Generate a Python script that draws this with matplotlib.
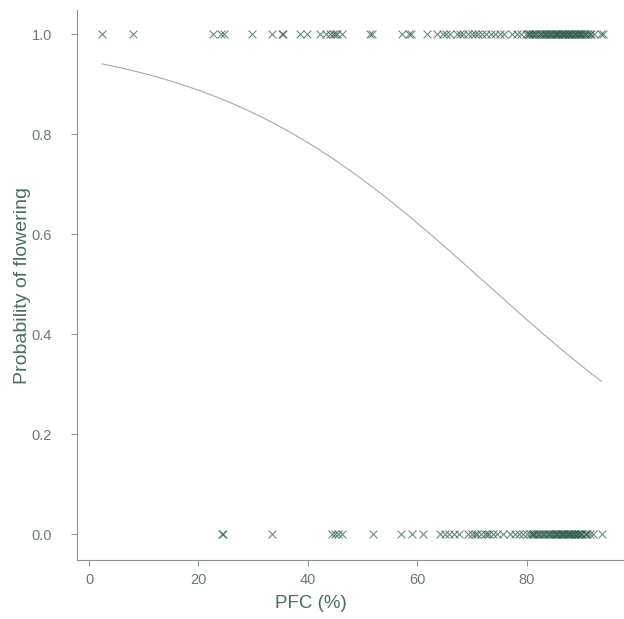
import matplotlib.pyplot as plt
import numpy as np

plt.rcParams['font.family'] = ['Liberation Sans', 'DejaVu Sans']

# PFC (%) of plants that flowered (y = 1) and did not flower (y = 0)
pfc_flowered = [
    2.4, 8.1, 22.6, 24.2, 24.6, 29.8, 33.4, 35.2, 35.5, 38.5, 39.9,
    42.3, 43.4, 44.1, 44.6, 45.0, 45.4, 46.3, 51.4, 51.8, 57.3, 58.5,
    58.9, 61.8, 63.6, 64.8, 65.3, 66.0, 67.2, 67.8, 68.4, 69.3, 70.0,
    70.6, 71.2, 71.9, 72.5, 73.4, 74.2, 75.1, 75.9, 77.4, 78.3, 79.0,
    79.8, 80.3, 80.5, 80.7, 81.0, 81.2, 81.6, 81.8, 82.0, 82.4, 82.6,
    82.9, 83.1, 83.3, 83.6, 83.8, 84.0, 84.3, 84.5, 84.7, 85.0, 85.2,
    85.3, 85.6, 85.8, 85.9, 86.2, 86.4, 86.5, 86.8, 87.0, 87.1, 87.4,
    87.5, 87.7, 88.0, 88.1, 88.3, 88.6, 88.8, 88.9, 89.2, 89.4, 89.5,
    89.8, 90.0, 90.2, 90.5, 90.7, 90.9, 91.3, 91.6, 91.8, 92.4, 93.6,
    93.9,
]
pfc_not_flowered = [
    24.3, 24.5, 33.5, 44.4, 45.0, 45.6, 46.2, 51.9, 57.1, 59.0, 61.0,
    64.2, 65.1, 65.8, 66.7, 67.6, 69.2, 70.1, 70.5, 70.9, 71.6, 72.3,
    72.8, 73.2, 73.9, 74.6, 75.7, 77.0, 77.8, 78.6, 79.3, 80.0, 80.6,
    80.9, 81.1, 81.4, 81.7, 82.1, 82.3, 82.6, 83.0, 83.2, 83.5, 83.9,
    84.1, 84.3, 84.7, 84.9, 85.1, 85.4, 85.6, 85.8, 86.1, 86.3, 86.4,
    86.7, 86.9, 87.0, 87.3, 87.5, 87.6, 87.9, 88.1, 88.2, 88.5, 88.7,
    88.8, 89.1, 89.3, 89.4, 89.8, 90.0, 90.2, 90.6, 90.8, 91.1, 91.6,
    92.2, 93.7,
]

# fitted logistic regression: logit(p) = b0 + b1 * PFC
b0 = 2.85
b1 = -0.0392
pfc_range = (2.4, 93.6)

xticks = [0, 20, 40, 60, 80]
yticks = [0.0, 0.2, 0.4, 0.6, 0.8, 1.0]

mark_col = '#2e5a4e'
text_col = '#4a6e62'
tick_col = '#6a7a72'

fig = plt.figure(figsize=(6.24, 6.19), dpi=100)
ax = fig.add_axes([77 / 624, 59 / 619, 547 / 624, 550 / 619])

ax.scatter(pfc_flowered, np.ones(len(pfc_flowered)), marker='x', s=32,
           color=mark_col, linewidths=0.8, alpha=0.7)
ax.scatter(pfc_not_flowered, np.zeros(len(pfc_not_flowered)), marker='x', s=32,
           color=mark_col, linewidths=0.8, alpha=0.7)

xs = np.linspace(pfc_range[0], pfc_range[1], 200)
ps = 1 / (1 + np.exp(-(b0 + b1 * xs)))
ax.plot(xs, ps, color='#b0a4aa', lw=0.8)

ax.set_xlim(-2.2, 97.8)
ax.set_ylim(-0.052, 1.048)
ax.set_xticks(xticks)
ax.set_yticks(yticks)
ax.set_yticklabels([f'{v:.1f}' for v in yticks])

for side in ['top', 'right']:
    ax.spines[side].set_visible(False)
for side in ['left', 'bottom']:
    ax.spines[side].set_color('#8a9590')
    ax.spines[side].set_linewidth(0.8)

ax.tick_params(axis='both', colors='#8a9590', length=4, width=0.7,
               labelcolor=tick_col, labelsize=10.5)
ax.tick_params(axis='y', pad=14)
ax.tick_params(axis='x', pad=5)

ax.set_xlabel('PFC (%)', fontsize=13.5, color=text_col)
ax.set_ylabel('Probability of flowering', fontsize=14, color=text_col)
ax.xaxis.set_label_coords((311 - 77) / 547, -(595 - 560) / 550)
ax.yaxis.set_label_coords(-(77 - 31) / 547, 0.5)

fig.savefig('out.png', dpi=100)
